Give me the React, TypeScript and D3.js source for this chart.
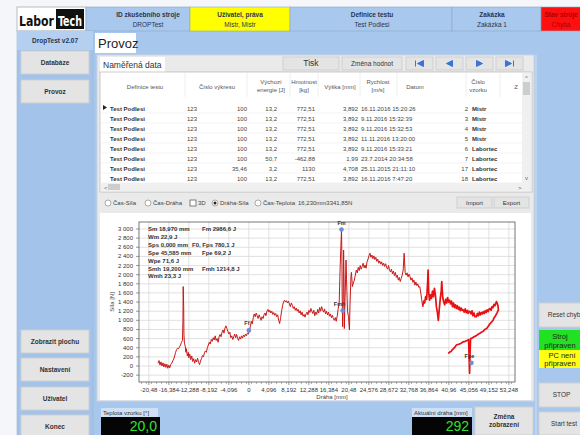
import * as d3 from "d3";

const FONT = "'Liberation Sans', Arial, sans-serif";

const HEADER_CELLS = [
  { title: "ID zkušebního stroje", value: "DROPTest", x0: 86, x1: 190, cx: 148, fill: "#a9c8ee" },
  { title: "Uživatel, práva", value: "Mistr, Mistr", x0: 190, x1: 290, cx: 240, fill: "#ffff00" },
  { title: "Definice testu", value: "Test Podlesi", x0: 290, x1: 452, cx: 372, fill: "#a9c8ee" },
  { title: "Zakázka", value: "Zakázka 1", x0: 452, x1: 541, cx: 492, fill: "#a9c8ee" },
  { title: "Stav stroje", value: "Chyba", x0: 541, x1: 600, cx: 561, fill: "#ff1010" },
];

const LEFT_BUTTONS = [
  { label: "Databáze", y: 51 },
  { label: "Provoz", y: 80 },
  { label: "Zobrazit plochu", y: 330 },
  { label: "Nastavení", y: 358 },
  { label: "Uživatel", y: 387 },
  { label: "Konec", y: 415 },
];

const TABLE_COLUMNS = [
  { head: ["Definice testu"], cx: 145, x0: 108 },
  { head: ["Číslo výkresu"], cx: 217, x0: 185 },
  { head: ["Výchozí", "energie [J]"], cx: 271, x0: 247 },
  { head: ["Hmotnost", "[kg]"], cx: 304, x0: 290 },
  { head: ["Výška [mm]"], cx: 340, x0: 318 },
  { head: ["Rychlost", "[m/s]"], cx: 378, x0: 360 },
  { head: ["Datum"], cx: 415, x0: 397 },
  { head: ["Číslo", "vzorku"], cx: 478, x0: 466 },
  { head: ["Z"], cx: 516, x0: 500 },
];

const TABLE_ROWS = [
  ["Test Podlesi", "123", "100", "13,2", "772,51", "3,892", "16.11.2016 15:20:26", "2", "Mistr"],
  ["Test Podlesi", "123", "100", "13,2", "772,51", "3,892", "9.11.2016 15:32:39", "3", "Mistr"],
  ["Test Podlesi", "123", "100", "13,2", "772,51", "3,892", "9.11.2016 15:32:53", "4", "Mistr"],
  ["Test Podlesi", "123", "100", "13,2", "772,51", "3,892", "11.11.2016 13:20:00", "5", "Mistr"],
  ["Test Podlesi", "123", "100", "13,2", "772,51", "3,892", "9.11.2016 15:33:21", "6", "Labortec"],
  ["Test Podlesi", "123", "100", "50,7", "-462,88", "1,99", "23.7.2014 20:34:58", "7", "Labortec"],
  ["Test Podlesi", "123", "35,46", "3,2", "1130", "4,708", "25.11.2015 21:11:10", "17", "Labortec"],
  ["Test Podlesi", "123", "100", "13,2", "772,51", "3,892", "16.11.2016 7:47:20", "18", "Labortec"],
];

const X_TICKS = [-20.48, -16.384, -12.288, -8.192, -4.096, 0, 4.096, 8.192, 12.288, 16.384, 20.48, 24.576, 28.672, 32.768, 36.864, 40.96, 45.056, 49.152, 53.248];
const X_TICK_LABELS = ["-20,48", "-16,384", "-12,288", "-8,192", "-4,096", "0", "4,096", "8,192", "12,288", "16,384", "20,48", "24,576", "28,672", "32,768", "36,864", "40,96", "45,056", "49,152", "53,248"];
const Y_TICKS = [-200, 0, 200, 400, 600, 800, 1000, 1200, 1400, 1600, 1800, 2000, 2200, 2400, 2600, 2800, 3000];

// dráha [mm], síla [N] - first part of the record
const forcePath: [number, number][] = [
  [-18.6, 60], [-18.4, 120], [-18.2, 20], [-18.0, 90], [-17.8, 0], [-17.6, 70], [-17.4, -20], [-17.2, 50], [-17.0, -30],
  [-16.8, 40], [-16.6, -50], [-16.4, 20], [-16.2, -40], [-16.0, 30], [-15.8, 60], [-15.6, 110], [-15.4, 150], [-15.2, 220],
  [-15.0, 300], [-14.8, 360], [-14.6, 390], [-14.4, 380], [-14.2, 420], [-14.0, 460], [-13.8, 520], [-13.6, 560],
  [-13.5, 1000], [-13.45, 1740], [-13.35, 1300], [-13.3, 700], [-13.2, 500], [-13.0, 420], [-12.9, 300], [-12.8, 380],
  [-12.6, 220], [-12.4, 300], [-12.3, 180], [-12.1, 260], [-11.9, 140], [-11.7, 220], [-11.5, 100], [-11.3, 160],
  [-11.1, 60], [-10.9, 140], [-10.7, 90], [-10.5, 170], [-10.3, 80], [-10.1, 30], [-9.9, 110], [-9.7, 160], [-9.5, 230],
  [-9.3, 200], [-9.1, 290], [-8.9, 330], [-8.7, 300], [-8.5, 400], [-8.3, 460], [-8.1, 520], [-7.9, 480], [-7.7, 580],
  [-7.5, 540], [-7.3, 620], [-7.1, 570], [-6.9, 660], [-6.7, 560], [-6.5, 600], [-6.3, 520], [-6.1, 640], [-5.9, 690],
  [-5.7, 640], [-5.5, 740], [-5.3, 790], [-5.1, 720], [-4.9, 830], [-4.7, 880], [-4.5, 820], [-4.3, 760], [-4.1, 700],
  [-3.9, 740], [-3.7, 620], [-3.5, 660], [-3.3, 580], [-3.1, 640], [-2.9, 700], [-2.7, 620], [-2.5, 690], [-2.3, 600],
  [-2.1, 560], [-1.9, 640], [-1.7, 590], [-1.5, 660], [-1.3, 610], [-1.1, 680], [-0.9, 640], [-0.7, 700], [-0.5, 660],
  [-0.3, 720], [-0.1, 700], [0.1, 780], [0.3, 860], [0.5, 980], [0.7, 920], [0.9, 1060], [1.1, 1140], [1.3, 1080],
  [1.5, 1160], [1.7, 1100], [1.9, 1040], [2.1, 1120], [2.3, 1060], [2.5, 1000], [2.7, 1080], [2.9, 1040], [3.1, 1120],
  [3.3, 1160], [3.5, 1100], [3.7, 1200], [3.9, 1240], [4.1, 1180], [4.3, 1220], [4.5, 1160], [4.7, 1200], [4.9, 1130],
  [5.1, 1170], [5.3, 1110], [5.5, 1150], [5.7, 1080], [5.9, 1120], [6.1, 1000], [6.3, 930], [6.5, 1060], [6.7, 1200],
  [6.9, 1320], [7.1, 1400], [7.3, 1440], [7.5, 1400], [7.7, 1430], [7.9, 1380], [8.1, 1420], [8.3, 1360], [8.5, 1300],
  [8.7, 1380], [8.9, 1330], [9.1, 1260], [9.3, 1300], [9.5, 1220], [9.7, 1270], [9.9, 1200], [10.1, 1240], [10.3, 1160],
  [10.5, 1210], [10.7, 1120], [10.9, 1180], [11.1, 1090], [11.3, 1130], [11.5, 1070], [11.7, 1140], [11.9, 1180],
  [12.1, 1120], [12.3, 1220], [12.5, 1170], [12.7, 1260], [12.9, 1200], [13.1, 1150], [13.3, 1220], [13.5, 1100],
  [13.7, 1180], [13.9, 1130], [14.1, 1240], [14.3, 1160], [14.5, 1280], [14.7, 1200], [14.9, 1300], [15.1, 1230],
  [15.3, 1180], [15.5, 1250], [15.7, 1140], [15.9, 1200], [16.1, 1120], [16.3, 1180], [16.5, 1090], [16.7, 1140],
  [16.9, 1060], [17.1, 1110], [17.3, 1040], [17.5, 1000], [17.7, 1060], [17.9, 980], [18.1, 1100], [18.3, 1260],
  [18.5, 1400], [18.7, 2200], [18.97, 2986.6], [19.05, 2400], [19.1, 1600], [19.2, 860], [19.3, 1400], [19.4, 2540],
  [19.5, 1800], [19.55, 820], [19.7, 1500], [19.9, 2320], [20.0, 1900], [20.2, 1200], [20.4, 1080], [20.6, 790],
  [20.7, 1300], [20.9, 1950], [21.0, 2050], [21.2, 1740], [21.4, 1820], [21.6, 1880], [21.8, 1990], [22.0, 2100],
  [22.2, 2040], [22.4, 2160], [22.6, 2090], [22.8, 2200], [23.0, 2120], [23.2, 2180], [23.4, 2250], [23.6, 2150],
  [23.8, 2210], [24.0, 2140], [24.2, 2280], [24.4, 2340], [24.6, 2420], [24.8, 2470], [25.0, 2380], [25.2, 2430],
  [25.4, 2350], [25.6, 2410], [25.8, 2330], [26.0, 2380], [26.2, 2290], [26.4, 2340], [26.6, 2250], [26.8, 2300],
  [27.0, 2230], [27.2, 2280], [27.4, 2200], [27.6, 2250], [27.8, 2180], [28.0, 2240], [28.2, 2170], [28.4, 2120],
  [28.6, 2200], [28.8, 2100], [29.0, 2060], [29.2, 2120], [29.4, 2020], [29.6, 2080], [29.8, 1980], [30.0, 2050],
  [30.2, 1940], [30.4, 1990], [30.6, 1880], [30.8, 1940], [31.0, 1850], [31.2, 1920], [31.4, 1990], [31.6, 2100],
  [31.8, 2470], [32.0, 2050], [32.2, 1990], [32.4, 2040], [32.6, 1950], [32.8, 2010], [33.0, 1960], [33.2, 1880],
  [33.4, 1930], [33.6, 1830], [33.8, 1880], [34.0, 1770], [34.2, 1840], [34.4, 1760], [34.6, 1800], [34.8, 1720],
  [35.0, 1740], [35.2, 1600], [35.4, 1450], [35.6, 1300],
];

// end of the record (dense, thicker trace) incl. the way back
const tailPath: [number, number][] = [
  [35.6, 1300], [35.8, 1420], [36.0, 1380], [36.2, 1520], [36.4, 1460], [36.6, 1800], [36.7, 2100], [36.8, 1650],
  [37.0, 1440], [37.2, 1560], [37.4, 1480], [37.6, 1640], [37.8, 1520], [38.0, 1700], [38.2, 1560], [38.4, 1300],
  [38.6, 1180], [38.8, 1000], [39.0, 1250], [39.2, 1480], [39.4, 1650], [39.5, 1850], [39.7, 1500], [39.9, 1400],
  [40.1, 1340], [40.3, 1460], [40.5, 1380], [40.7, 1500], [40.9, 1400], [41.1, 1440], [41.3, 1360], [41.5, 1420],
  [41.7, 1300], [41.9, 1380], [42.1, 1280], [42.3, 1340], [42.5, 1260], [42.7, 1320], [42.9, 1240], [43.1, 1290],
  [43.3, 1210], [43.5, 1270], [43.7, 1220], [43.9, 1230], [44.1, 1180], [44.3, 1250], [44.5, 1170], [44.7, 1220],
  [44.9, 1150], [45.1, 1200], [45.3, 1190], [45.5, 1140], [45.7, 1210], [45.9, 1100], [46.1, 1160], [46.3, 1080],
  [46.6, 1080], [46.8, 1150], [47.0, 1100], [47.2, 1180], [47.4, 1120], [47.6, 1170], [47.8, 1140], [48.0, 1190],
  [48.2, 1150], [48.4, 1210], [48.6, 1170], [48.8, 1230], [49.0, 1190], [49.2, 1250], [49.4, 1260], [49.6, 1220],
  [49.8, 1300], [50.0, 1280], [50.2, 1350], [50.4, 1320], [50.7, 1410], [51.0, 1330], [51.1, 1230], [50.8, 1160],
  [50.5, 1100], [50.2, 1050], [50.0, 1000], [49.7, 960], [49.4, 930], [49.1, 880], [48.7, 820], [48.3, 800],
  [48.0, 760], [47.6, 740], [47.3, 715], [46.9, 690], [46.5, 660], [46.1, 640], [45.7, 610], [45.4, 600], [45.3, 300],
  [45.2, -160], [45.1, 200], [45.0, 580], [44.7, 560], [44.3, 540], [43.9, 530], [43.5, 500], [43.1, 480], [42.8, 470],
  [42.5, 460], [42.1, 400], [41.7, 360], [41.4, 320], [41.2, 310], [41.0, 290], [40.8, 280],
];

const markers = [
  { name: "Fm", s: 18.97, f: 2986.6, dx: 0, dy: -5 },
  { name: "Fmh", s: 19.2, f: 1214.8, dx: -3, dy: -5 },
  { name: "Ff", s: 0, f: 780.1, dx: -2, dy: -5 },
  { name: "Fpe", s: 45.585, f: 69.2, dx: -2, dy: -5 },
];

const infoLines = [
  ["Sm 18,970 mm", "Fm 2986,6 J"],
  ["Wm 22,9 J", ""],
  ["Sps 0,000 mm", "F0, Fps 780,1 J"],
  ["Spe 45,585 mm", "Fpe 69,2 J"],
  ["Wpe 71,6 J", ""],
  ["Smh 19,200 mm", "Fmh 1214,8 J"],
  ["Wmh 23,3 J", ""],
];

const modes = [
  { label: "Čas-Síla", x: 108, kind: "radio" },
  { label: "Čas-Dráha", x: 148, kind: "radio" },
  { label: "3D", x: 193, kind: "check" },
  { label: "Dráha-Síla", x: 215, kind: "radio", on: true },
  { label: "Čas-Teplota", x: 258, kind: "radio" },
];

function Btn({ x, y, w, h, label, size = 6.5, bold = false }: any) {
  const lines = Array.isArray(label) ? label : [label];
  return (
    <g>
      <rect x={x} y={y} width={w} height={h} fill="#e4e4e4" stroke="#cfcfcf" />
      {lines.map((l: string, i: number) => (
        <text key={i} x={x + w / 2} y={y + h / 2 + size * 0.35 + (i - (lines.length - 1) / 2) * size * 1.25}
          textAnchor="middle" fontSize={size} fontWeight={bold ? "bold" : "normal"} fill="#333">{l}</text>
      ))}
    </g>
  );
}

function Chart() {
  const x = d3.scaleLinear().domain([-22.5, 54.5]).range([139, 515]);
  const y = d3.scaleLinear().domain([-350, 3153]).range([382, 222]);
  const line = d3.line<[number, number]>().x((d) => x(d[0])).y((d) => y(d[1]));
  const minor = d3.range(-22, 54.5, 1.024);
  const yLab = (v: number) => (Math.abs(v) >= 1000 ? `${Math.floor(v / 1000)} ${String(v % 1000).padStart(3, "0")}` : String(v));
  return (
    <g fontFamily={FONT}>
      <rect x={100} y={213} width={431} height={187} fill="#fff" />
      {X_TICKS.map((t) => (
        <line key={"gx" + t} x1={x(t)} x2={x(t)} y1={222} y2={382} stroke="#d8d8d8" strokeWidth={0.8} />
      ))}
      {Y_TICKS.map((t) => (
        <line key={"gy" + t} x1={139} x2={515} y1={y(t)} y2={y(t)} stroke="#d8d8d8" strokeWidth={0.8} />
      ))}
      <rect x={139} y={222} width={376} height={160} fill="none" stroke="#555" strokeWidth={0.8} />
      {minor.map((t, i) => (
        <line key={"mt" + i} x1={x(t)} x2={x(t)} y1={382} y2={384} stroke="#666" strokeWidth={0.5} />
      ))}
      {X_TICKS.map((t, i) => (
        <g key={"xt" + t}>
          <line x1={x(t)} x2={x(t)} y1={382} y2={385} stroke="#555" strokeWidth={0.6} />
          <text x={x(t)} y={392} textAnchor="middle" fontSize={6} fill="#333">{X_TICK_LABELS[i]}</text>
        </g>
      ))}
      {Y_TICKS.map((t) => (
        <g key={"yt" + t}>
          <line x1={136} x2={139} y1={y(t)} y2={y(t)} stroke="#555" strokeWidth={0.6} />
          <text x={133} y={y(t) + 2} textAnchor="end" fontSize={6} fill="#333">{yLab(t)}</text>
        </g>
      ))}
      <text transform="translate(114,302) rotate(-90)" textAnchor="middle" fontSize={6} fill="#444">Síla [N]</text>
      <text x={332} y={399} textAnchor="middle" fontSize={6} fill="#444">Dráha [mm]</text>
      <defs>
        <clipPath id="plotClip"><rect x={139} y={222} width={376} height={160} /></clipPath>
      </defs>
      <g clipPath="url(#plotClip)">
        <path d={line(forcePath) || ""} fill="none" stroke="#c81818" strokeWidth={1} strokeLinejoin="round" />
        <path d={line(tailPath) || ""} fill="none" stroke="#e81010" strokeWidth={1.7} strokeLinejoin="round" />
      </g>
      {markers.map((m) => (
        <g key={m.name}>
          <circle cx={x(m.s)} cy={y(m.f)} r={2.3} fill="#6d8fd8" />
          <text x={x(m.s) + m.dx} y={y(m.f) + m.dy} textAnchor="middle" fontSize={5.5} fontWeight="bold" fill="#333">{m.name}</text>
        </g>
      ))}
      {infoLines.map((l, i) => (
        <g key={"info" + i} fontSize={6} fontWeight="bold" fill="#333">
          <text x={148} y={231 + i * 7.9}>{l[0]}</text>
          {l[1] && <text x={i === 2 ? 192 : 202} y={231 + i * 7.9}>{l[1]}</text>}
        </g>
      ))}
    </g>
  );
}

function Table() {
  const rowY = (i: number) => 109 + i * 10;
  return (
    <g fontFamily={FONT}>
      <rect x={100} y={72} width={432} height={120} fill="#fff" stroke="#a9a9a9" strokeWidth={0.6} />
      {TABLE_COLUMNS.map((c, i) => (
        <g key={"h" + i}>
          {i > 0 && <line x1={c.x0} x2={c.x0} y1={73} y2={97} stroke="#eee" />}
          {c.head.map((h, j) => (
            <text key={j} x={c.cx} y={c.head.length === 1 ? 89 : 84 + j * 8} textAnchor="middle" fontSize={6} fill="#555">{h}</text>
          ))}
        </g>
      ))}
      {TABLE_ROWS.map((r, i) => (
        <g key={"r" + i} fontSize={6} fill="#444">
          <line x1={100} x2={522} y1={rowY(i) + 4} y2={rowY(i) + 4} stroke="#ececec" strokeWidth={0.6} />
          {i === 0 && <path d={`M103,${rowY(i) - 4} L107,${rowY(i) - 1.5} L103,${rowY(i) + 1} Z`} fill="#222" />}
          <text x={110} y={rowY(i) + 2} fontWeight="bold" fill="#333">{r[0]}</text>
          <text x={187} y={rowY(i) + 2}>{r[1]}</text>
          <text x={247} y={rowY(i) + 2} textAnchor="end">{r[2]}</text>
          <text x={277} y={rowY(i) + 2} textAnchor="end">{r[3]}</text>
          <text x={315} y={rowY(i) + 2} textAnchor="end">{r[4]}</text>
          <text x={358} y={rowY(i) + 2} textAnchor="end">{r[5]}</text>
          <text x={361} y={rowY(i) + 2}>{r[6]}</text>
          <text x={468} y={rowY(i) + 2} textAnchor="end">{r[7]}</text>
          <text x={472} y={rowY(i) + 2} fontWeight="bold" fill="#333">{r[8]}</text>
        </g>
      ))}
      <rect x={522} y={73} width={9} height={110} fill="#f0f0f0" />
      <rect x={523} y={82} width={7} height={13} fill="#cdcdcd" />
      <text x={526.5} y={80} textAnchor="middle" fontSize={6} fill="#666">^</text>
      <text x={526.5} y={180} textAnchor="middle" fontSize={6} fill="#666">v</text>
      <rect x={101} y={183} width={430} height={8} fill="#f0f0f0" />
      <rect x={108} y={184} width={12} height={6} fill="#cdcdcd" />
      <text x={104} y={189.5} fontSize={6} fill="#666">&lt;</text>
      <text x={518} y={189.5} fontSize={6} fill="#666">&gt;</text>
    </g>
  );
}

export default function App() {
  const navGlyphs = [
    { x: 406, d: "M-4,-3 L-4,3 M4,-3 L-2,0 L4,3 Z" },
    { x: 436, d: "M3,-3 L-3,0 L3,3 Z" },
    { x: 466, d: "M-3,-3 L3,0 L-3,3 Z" },
    { x: 496, d: "M4,-3 L4,3 M-4,-3 L2,0 L-4,3 Z" },
  ];
  const logoFont = "'DejaVu Sans Condensed', 'DejaVu Sans', sans-serif";
  return (
    <svg width={580} height={435} viewBox="0 0 580 435" style={{ position: "fixed", left: 0, top: 0 }} fontFamily={FONT}>
      <rect width={580} height={435} fill="#a8c7ec" />
      <rect width={17} height={435} fill="#f4f6f9" />
      <rect width={580} height={7} fill="#f4f6f9" />
      {/* header */}
      <rect x={17} y={7} width={69} height={24} fill="#fff" stroke="#bbb" />
      <text x={19} y={26} fontSize={14} fontWeight="bold" fill="#111" fontFamily={logoFont} textLength={35} lengthAdjust="spacingAndGlyphs">Labor</text>
      <rect x={56} y={9} width={28} height={20} fill="#111" />
      <text x={58} y={26} fontSize={14} fontWeight="bold" fill="#fff" fontFamily={logoFont} textLength={24} lengthAdjust="spacingAndGlyphs">Tech</text>
      {HEADER_CELLS.map((c, i) => (
        <g key={i}>
          <rect x={c.x0} y={7} width={c.x1 - c.x0} height={24} fill={c.fill} stroke="#8ea7c4" strokeWidth={0.6} />
          <text x={c.cx} y={17} textAnchor="middle" fontSize={6.5} fontWeight="bold" fill={i === 4 ? "#a00" : "#2a3550"}>{c.title}</text>
          <text x={c.cx} y={27} textAnchor="middle" fontSize={6.5} fill={i === 4 ? "#a00" : "#2a3550"}>{c.value}</text>
        </g>
      ))}
      {/* left bar */}
      <rect x={17} y={31} width={76} height={404} fill="#a3c3ea" stroke="#9bb5d6" strokeWidth={0.6} />
      <rect x={17} y={31} width={76} height={19} fill="#b4cff0" />
      <text x={55} y={43} textAnchor="middle" fontSize={6.5} fontWeight="bold" fill="#2a3550">DropTest v2.07</text>
      {LEFT_BUTTONS.map((b) => (
        <Btn key={b.label} x={21} y={b.y} w={68} h={23} label={b.label} size={6.5} bold />
      ))}
      {/* tab */}
      <rect x={95} y={33} width={41} height={20} fill="#fff" />
      <text x={98} y={48} fontSize={13} fill="#222">Provoz</text>
      {/* main panel */}
      <rect x={97} y={55} width={437} height={346} fill="#eaeaea" stroke="#c6d4e4" />
      <rect x={100} y={57} width={65} height={15} fill="#fff" />
      <text x={103} y={68} fontSize={8.5} fill="#333">Naměřená data</text>
      <Btn x={283} y={57} w={56} h={13} label="Tisk" size={8.5} />
      <Btn x={342} y={57} w={60} h={13} label="Změna hodnot" size={6.5} />
      {navGlyphs.map((g) => (
        <g key={g.x}>
          <rect x={g.x} y={57} width={27} height={13} fill="#e4e4e4" stroke="#cfcfcf" />
          <path d={g.d} transform={`translate(${g.x + 13.5},63.5)`} fill="#3a74d8" stroke="#3a74d8" strokeWidth={1} />
        </g>
      ))}
      <Table />
      {/* mode row */}
      <g fontSize={6} fill="#444">
        {modes.map((m) => (
          <g key={m.label}>
            {m.kind === "radio" ? (
              <>
                <circle cx={m.x} cy={203} r={3} fill="#fff" stroke="#777" strokeWidth={0.6} />
                {m.on && <circle cx={m.x} cy={203} r={1.5} fill="#222" />}
              </>
            ) : (
              <rect x={m.x - 3} y={200} width={6} height={6} fill="#fff" stroke="#333" strokeWidth={0.6} />
            )}
            <text x={m.x + 5} y={205}>{m.label}</text>
          </g>
        ))}
        <text x={298} y={205}>16,230mm3341,85N</text>
      </g>
      <Btn x={457} y={197} w={35} h={11} label="Import" size={6} />
      <Btn x={494} y={197} w={35} h={11} label="Export" size={6} />
      <Chart />
      {/* bottom displays */}
      <rect x={101} y={408} width={57} height={9} fill="#cfe0f5" />
      <text x={103} y={415} fontSize={6} fill="#333">Teplota vzorku [°]</text>
      <rect x={101} y={417} width={59} height={18} fill="#050505" />
      <text x={157} y={431} textAnchor="end" fontSize={14} fill="#35e035">20,0</text>
      <rect x={412} y={408} width={60} height={9} fill="#cfe0f5" />
      <text x={414} y={415} fontSize={6} fill="#333">Aktuální dráha [mm]</text>
      <rect x={412} y={417} width={60} height={18} fill="#050505" />
      <text x={469} y={431} textAnchor="end" fontSize={14} fill="#35e035">292</text>
      <Btn x={475} y={407} w={58} h={28} label={["Změna", "zobrazení"]} size={6.5} bold />
      {/* right column */}
      <line x1={536} x2={536} y1={55} y2={435} stroke="#d2e1f3" />
      <Btn x={539} y={303} w={50} h={24} label="Reset chyb" size={6.5} />
      <rect x={539} y={330} width={45} height={20} fill="#22e022" />
      <text x={560} y={339} textAnchor="middle" fontSize={7.5} fill="#222">Stroj</text>
      <text x={560} y={348} textAnchor="middle" fontSize={7.5} fill="#222">připraven</text>
      <rect x={539} y={350} width={45} height={18} fill="#ffff10" />
      <text x={562} y={358} textAnchor="middle" fontSize={7.5} fill="#222">PC není</text>
      <text x={560} y={366} textAnchor="middle" fontSize={7.5} fill="#222">připraven</text>
      <Btn x={539} y={383} w={45} h={24} label="STOP" size={6.5} />
      <Btn x={539} y={412} w={50} h={23} label="Start test" size={6.5} />
    </svg>
  );
}
